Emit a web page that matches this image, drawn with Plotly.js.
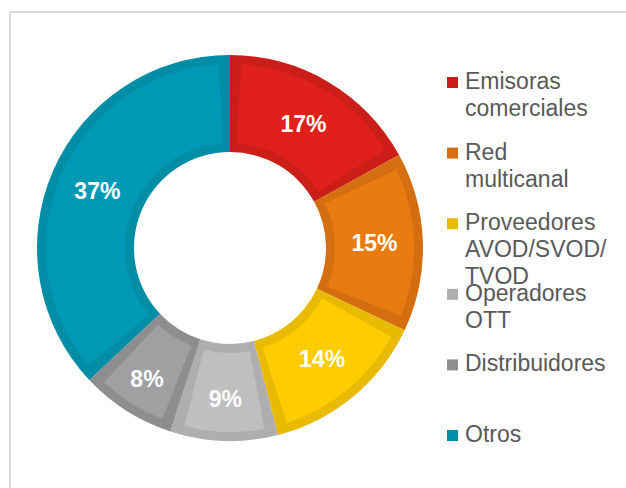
<!DOCTYPE html>
<html>
<head>
<meta charset="utf-8">
<script src="https://cdn.plot.ly/plotly-3.0.1.min.js"></script>
<style>
  html, body { margin: 0; padding: 0; background: #fff; }
  #myDiv { width: 626px; height: 488px; }
</style>
</head>
<body>
<div id="myDiv"></div>
<script>
// Shares by segment (%), clockwise from 12 o'clock
const segments = ['Emisoras comerciales', 'Red multicanal', 'Proveedores AVOD/SVOD/TVOD',
  'Operadores OTT', 'Distribuidores', 'Otros'];
const shares = [17, 15, 14, 9, 8, 37];
const pctLabels = ['17%', '15%', '14%', '9%', '8%', '37%'];

// legend text, wrapped the way the original wraps it
const legendLines = [
  ['Emisoras', 'comerciales'],
  ['Red', 'multicanal'],
  ['Proveedores', 'AVOD/SVOD/', 'TVOD'],
  ['Operadores', 'OTT'],
  ['Distribuidores'],
  ['Otros']
];

const fillColors = ['#E0201B', '#E87C10', '#FFCC00', '#BFBEC0', '#A09FA2', '#0099B5'];
const edgeColors = ['#CB1E19', '#D56E10', '#E8BA00', '#AEADB0', '#8E8D90', '#008DA6'];

// ---- geometry (px, figure is 626x488 with zero margins) ----
const W = 626, H = 488;
const cx = 230, cy = 248;
const rOuter = 193, rInner = 96, border = 9;

function domainFor(r) {
  return {
    x: [(cx - r) / W, (cx + r) / W],
    y: [(H - cy - r) / H, (H - cy + r) / H]
  };
}

// outer trace: darker colour = the slice border
const edgeTrace = {
  type: 'pie',
  values: shares,
  labels: segments,
  sort: false,
  direction: 'clockwise',
  rotation: 0,
  hole: rInner / rOuter,
  domain: domainFor(rOuter),
  marker: { colors: edgeColors, line: { width: 0 } },
  textinfo: 'none',
  hoverinfo: 'skip',
  showlegend: false
};

// inner trace: lighter fill, with small transparent spacers so the border shows between slices
const gap = 1.0;
const innerValues = [], innerColors = [], innerText = [], innerLabels = [];
shares.forEach((v, i) => {
  innerValues.push(gap, v - 2 * gap, gap);
  innerColors.push('rgba(0,0,0,0)', fillColors[i], 'rgba(0,0,0,0)');
  innerText.push('', pctLabels[i], '');
  innerLabels.push('g' + i + 'a', segments[i], 'g' + i + 'b');
});

const rOuterB = rOuter - border;
const fillTrace = {
  type: 'pie',
  values: innerValues,
  labels: innerLabels,
  text: innerText,
  sort: false,
  direction: 'clockwise',
  rotation: 0,
  hole: (rInner + border) / rOuterB,
  domain: domainFor(rOuterB),
  marker: { colors: innerColors, line: { width: 0 } },
  textinfo: 'text',
  textposition: 'inside',
  insidetextorientation: 'horizontal',
  textfont: { family: 'Arial, "Liberation Sans", sans-serif', size: 23, color: '#ffffff', weight: 'bold' },
  hoverinfo: 'skip',
  showlegend: false
};

// ---- legend drawn by hand (original spacing lets lines overlap) ----
const legendTop = 89;      // baseline of first line, px
const entryStep = 70.6;
const lineStep = 27;
const annotations = [];
const shapes = [];

legendLines.forEach((lines, i) => {
  const base = legendTop + i * entryStep;
  lines.forEach((t, j) => {
    const b = base + j * lineStep;
    annotations.push({
      xref: 'paper', yref: 'paper',
      x: 463 / W, y: 1 - (b - 8) / H,
      xanchor: 'left', yanchor: 'middle',
      text: t, showarrow: false,
      font: { family: 'Arial, "Liberation Sans", sans-serif', size: 23, color: '#595959' }
    });
  });
  shapes.push({
    type: 'rect', xref: 'paper', yref: 'paper',
    x0: 447 / W, x1: 458 / W,
    y0: 1 - (base - 1) / H, y1: 1 - (base - 12) / H,
    fillcolor: edgeColors[i], line: { width: 0 }
  });
});

// thin grey frame, open at right and bottom
shapes.push({
  type: 'rect', xref: 'paper', yref: 'paper',
  x0: 10 / W, x1: 1.05, y0: -0.05, y1: 1 - 12 / H,
  line: { color: '#D9D9D9', width: 2 }, fillcolor: 'rgba(0,0,0,0)'
});

const layout = {
  width: W, height: H,
  margin: { l: 0, r: 0, t: 0, b: 0 },
  paper_bgcolor: '#ffffff',
  showlegend: false,
  annotations,
  shapes
};

Plotly.newPlot('myDiv', [edgeTrace, fillTrace], layout, { displayModeBar: false, staticPlot: true });
</script>
</body>
</html>
